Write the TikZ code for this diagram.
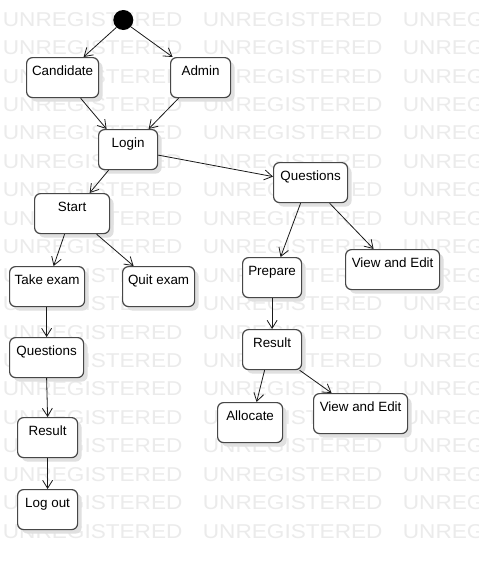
\documentclass[tikz,border=0pt]{standalone}
\usepackage{fontspec}
\setmainfont{Liberation Sans}
\usetikzlibrary{arrows.meta,shadows}
\tikzset{
  statebox/.style={draw=black!72, line width=1.2pt, rounded corners=6pt, fill=white,
    inner xsep=0pt, inner ysep=0pt, text height=18pt, text depth=22pt,
    font=\fontsize{13.4}{15}\selectfont, anchor=north west,
    drop shadow={shadow xshift=4pt, shadow yshift=-4pt, fill=black!12, opacity=1}},
  arr/.style={draw=black!90, line width=0.8pt, -{Straight Barb[length=8pt,width=10pt]}},
  wm/.style={text=black!8, inner sep=0pt, anchor=base west, font=\fontsize{20}{20}\selectfont},
}
\begin{document}
\begin{tikzpicture}[x=1pt,y=-1pt]
\useasboundingbox (0,0) rectangle (479,570);
\fill[white] (0,0) rectangle (479,570);
\begin{scope}
\clip (0,0) rectangle (479,570);
\foreach \k in {0,...,18}{
  \foreach \i in {0,1,2}{
    \node[wm] (wm-\k-\i) at (2.7+200*\i, 26.2+28.44*\k) {\scalebox{1.13}[1]{UNREGISTERED}};
  }
}
\end{scope}
% initial state
\node[circle, fill=black, inner sep=0pt, minimum size=20pt] (dot) at (123.3,20) {};
% states
\node[statebox, minimum width=72pt] (cand) at (26,57) {Candidate};
\node[statebox, minimum width=60pt] (admin) at (170,57) {Admin};
\node[statebox, minimum width=59pt] (login) at (98,129) {Login};
\node[statebox, minimum width=75pt] (start) at (34,193) {Start};
\node[statebox, minimum width=75pt] (take) at (9,266) {Take exam};
\node[statebox, minimum width=72pt] (quit) at (122,266) {Quit exam};
\node[statebox, minimum width=74pt] (ql) at (9,337) {Questions};
\node[statebox, minimum width=60pt] (rl) at (17,417) {Result};
\node[statebox, minimum width=60pt] (logout) at (17,489) {Log out};
\node[statebox, minimum width=74pt] (qr) at (273,162) {Questions};
\node[statebox, minimum width=59pt] (prep) at (242,257) {Prepare};
\node[statebox, minimum width=94pt] (vet) at (345,249) {View and Edit};
\node[statebox, minimum width=59pt] (rr) at (242,329) {Result};
\node[statebox, minimum width=65pt] (alloc) at (217,402) {Allocate};
\node[statebox, minimum width=94pt] (veb) at (313,393) {View and Edit};
% transitions
\draw[arr] (dot.-133) -- ([xshift=21pt]cand.north);
\draw[arr] (dot.-42) -- ([xshift=-28pt]admin.north);
\draw[arr] ([xshift=18pt]cand.south) -- ([xshift=-21.5pt]login.north);
\draw[arr] ([xshift=-22pt]admin.south) -- ([xshift=20.5pt]login.north);
\draw[arr] ([yshift=-5.5pt]login.east) -- ([yshift=6pt]qr.west);
\draw[arr] ([xshift=-19.5pt]login.south) -- ([xshift=17.5pt]start.north);
\draw[arr] ([xshift=-7.5pt]start.south) -- ([xshift=6.5pt]take.north);
\draw[arr] ([xshift=24.5pt]start.south) -- ([xshift=-25pt]quit.north);
\draw[arr] ([xshift=-0.5pt]take.south) -- (ql.north);
\draw[arr] (ql.south) -- (rl.north);
\draw[arr] (rl.south) -- (logout.north);
\draw[arr] ([xshift=-10pt]qr.south) -- ([xshift=8.5pt]prep.north);
\draw[arr] ([xshift=19pt]qr.south) -- ([xshift=-19pt]vet.north);
\draw[arr] (prep.south) -- (rr.north);
\draw[arr] ([xshift=-7.5pt]rr.south) -- ([xshift=6.5pt]alloc.north);
\draw[arr] ([xshift=27.5pt]rr.south) -- ([xshift=-29pt]veb.north);
\end{tikzpicture}
\end{document}
